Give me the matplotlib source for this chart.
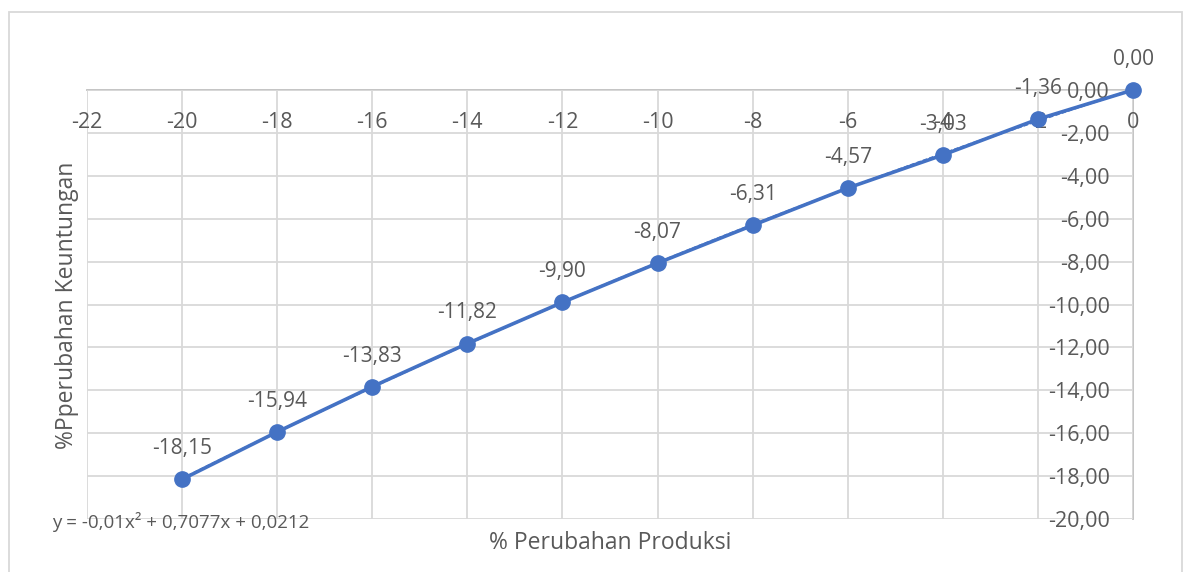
import numpy as np
import matplotlib
matplotlib.use("Agg")
import matplotlib.pyplot as plt
from matplotlib.patches import Rectangle

plt.rcParams['font.family'] = ['Open Sans', 'DejaVu Sans']

produksi = [-20, -18, -16, -14, -12, -10, -8, -6, -4, -2, 0]
keuntungan = [-18.15, -15.94, -13.83, -11.82, -9.90, -8.07, -6.31, -4.57, -3.03, -1.36, 0.00]
x_ticks = list(range(-22, 1, 2))
y_ticks = list(range(-20, 1, 2))
x_title = "% Perubahan Produksi"
y_title = "%Pperubahan Keuntungan"
equation = "y = -0,01x² + 0,7077x + 0,0212"

TXT = '#595959'
GRID = '#D9D9D9'
BLUE = '#4472C4'

W, H = 1189, 572
fig = plt.figure(figsize=(W/100, H/100), dpi=100)
ax = fig.add_axes([87/W, 1 - 519/H, (1133-87)/W, (519-90)/H])

ax.set_xlim(-22, 0)
ax.set_ylim(-20, 0)
ax.set_xticks(x_ticks)
ax.set_yticks(y_ticks)
ax.set_xticklabels([str(v) for v in x_ticks])
ax.set_yticklabels([f"{v:.2f}".replace('.', ',') for v in y_ticks])
ax.grid(True, color=GRID, linewidth=1.3)
ax.set_axisbelow(True)
for s in ['top', 'right']:
    ax.spines[s].set_visible(False)
ax.spines['left'].set_position(('data', 0))
ax.spines['bottom'].set_position(('data', 0))
for s in ['left', 'bottom']:
    ax.spines[s].set_color('#BFBFBF')
    ax.spines[s].set_linewidth(1.3)
    ax.spines[s].set_zorder(0.5)
ax.tick_params(axis='both', length=0, labelsize=15.5, labelcolor=TXT)
ax.tick_params(axis='x', pad=16)
ax.tick_params(axis='y', pad=16.5)

# trendline (2nd order polynomial)
coef = np.polyfit(produksi, keuntungan, 2)
xt = np.linspace(min(produksi), max(produksi), 200)
ax.plot(xt, np.polyval(coef, xt), color=BLUE, lw=1.6, ls=(0, (2, 1)), zorder=2)

ax.plot(produksi, keuntungan, color=BLUE, lw=2.6, marker='o', markersize=11,
        zorder=3, clip_on=False)

for x, y in zip(produksi, keuntungan):
    ax.annotate(f"{y:.2f}".replace('.', ','), (x, y), xytext=(0, 22),
                textcoords='offset points', ha='center', va='center',
                fontsize=15, color=TXT, zorder=4)

fig.text(610/W, 1 - 543/H, x_title, ha='center', va='center', fontsize=16.5, color=TXT)
fig.text(67/W, 1 - 305/H, y_title, ha='center', va='center', rotation=90,
         fontsize=16.5, color=TXT)
fig.text(52/W, 1 - 522/H, equation, ha='left', va='center', fontsize=13.5, color=TXT)

fig.patches.append(Rectangle((9/W, -0.05), (1182-9)/W, 1 - 12/H + 0.05,
                             transform=fig.transFigure, fill=False,
                             edgecolor='#D9D9D9', linewidth=1.3))

fig.savefig('out.png', dpi=100, facecolor='white')
